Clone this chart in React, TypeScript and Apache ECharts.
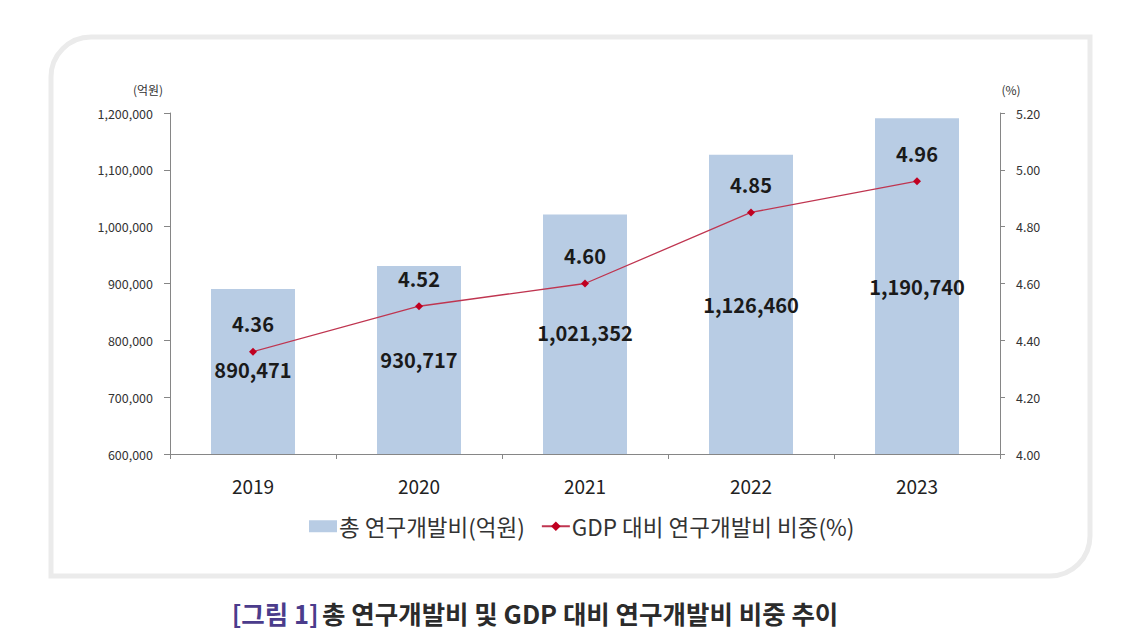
import React, { useEffect, useRef } from "react";
import * as echarts from "echarts";

const years = ["2019", "2020", "2021", "2022", "2023"];
const rdTotal = [890471, 930717, 1021352, 1126460, 1190740];
const gdpRatio = [4.36, 4.52, 4.6, 4.85, 4.96];
const leftTicks = { min: 600000, max: 1200000, interval: 100000 };
const rightTicks = { min: 4.0, max: 5.2, interval: 0.2 };
const barName = "총 연구개발비(억원)";
const lineName = "GDP 대비 연구개발비 비중(%)";
const titlePrefix = "[그림 1]";
const titleText = "총 연구개발비 및 GDP 대비 연구개발비 비중 추이";
// vertical offsets of the bar value labels below each bar's top (as placed in the original)
const barLabelDy = [66, 78, 103, 135, 153];

const FONT = "'Noto Sans CJK KR', 'Noto Sans', sans-serif";

export default function App() {
  const ref = useRef<HTMLDivElement>(null);
  useEffect(() => {
    if (!ref.current) return;
    const chart = echarts.init(ref.current, null, { renderer: "svg" });
    const fmt = (v: number) => v.toLocaleString("en-US");
    chart.setOption({
      animation: false,
      backgroundColor: "#ffffff",
      textStyle: { fontFamily: FONT },
      grid: { left: 170, right: 140, top: 113, bottom: 189, containLabel: false },
      legend: {
        left: 304,
        top: 510,
        itemWidth: 28,
        itemHeight: 12,
        itemGap: 16,
        textStyle: { fontSize: 22.5, color: "#333", fontFamily: FONT, padding: [0, 0, 0, -3] },
        data: [
          { name: barName, icon: "rect" },
          { name: lineName },
        ],
      },
      xAxis: {
        type: "category",
        data: years,
        axisLine: { lineStyle: { color: "#868686", width: 1 } },
        axisTick: { show: true, length: 5, lineStyle: { color: "#868686" } },
        axisLabel: { fontSize: 19, color: "#222", margin: 22, fontFamily: FONT },
      },
      yAxis: [
        {
          type: "value",
          min: leftTicks.min,
          max: leftTicks.max,
          interval: leftTicks.interval,
          name: "(억원)",
          nameLocation: "end",
          nameGap: 18,
          nameTextStyle: { fontSize: 12, color: "#333", align: "center", padding: [0, 44, 0, 0] },
          axisLine: { show: true, lineStyle: { color: "#868686" } },
          axisTick: { show: true, length: 6, lineStyle: { color: "#868686" } },
          splitLine: { show: false },
          axisLabel: { fontSize: 12.5, color: "#333", margin: 17, formatter: (v: number) => fmt(v) },
        },
        {
          type: "value",
          min: rightTicks.min,
          max: rightTicks.max,
          interval: rightTicks.interval,
          position: "right",
          name: "(%)",
          nameLocation: "end",
          nameGap: 18,
          nameTextStyle: { fontSize: 12, color: "#333", align: "center", padding: [0, 0, 0, 22] },
          axisLine: { show: true, lineStyle: { color: "#868686" } },
          axisTick: { show: true, length: 5, lineStyle: { color: "#868686" } },
          splitLine: { show: false },
          axisLabel: { fontSize: 12.5, color: "#333", margin: 16, formatter: (v: number) => v.toFixed(2) },
        },
      ],
      series: [
        {
          name: barName,
          type: "bar",
          yAxisIndex: 0,
          barWidth: 84,
          itemStyle: { color: "#b8cce4" },
          data: rdTotal.map((v, i) => ({
            value: v,
            label: {
              show: true,
              position: "insideTop",
              offset: [0, barLabelDy[i]],
              formatter: () => fmt(v),
              fontSize: 20,
              fontWeight: "bold",
              color: "#1a1a1a",
              fontFamily: FONT,
            },
          })),
        },
        {
          name: lineName,
          type: "line",
          yAxisIndex: 1,
          data: gdpRatio,
          symbol: "diamond",
          symbolSize: 8,
          lineStyle: { color: "#bf3550", width: 1.3 },
          itemStyle: { color: "#c00020" },
          label: {
            show: true,
            position: "top",
            distance: 14,
            formatter: (p: any) => Number(p.value).toFixed(2),
            fontSize: 20,
            fontWeight: "bold",
            color: "#1a1a1a",
            fontFamily: FONT,
          },
        },
      ],
      graphic: [
        {
          type: "rect",
          silent: true,
          z: -10,
          shape: { x: 51, y: 37, width: 1039, height: 539, r: [40, 0, 40, 0] },
          style: { fill: "none", stroke: "#ebebeb", lineWidth: 5 },
        },
        {
          type: "text",
          x: 535,
          y: 612,
          style: {
            text: `{a|${titlePrefix}} {b|${titleText}}`,
            align: "center",
            verticalAlign: "middle",
            rich: {
              a: { fontSize: 25.5, fontWeight: "bold", fill: "#4b3c8c", fontFamily: FONT },
              b: { fontSize: 25.5, fontWeight: "bold", fill: "#2b2b2b", fontFamily: FONT },
            },
          },
        },
      ],
    });
    return () => chart.dispose();
  }, []);
  return (
    <div
      ref={ref}
      style={{ position: "fixed", left: 0, top: 0, width: 1140, height: 643 }}
    />
  );
}
